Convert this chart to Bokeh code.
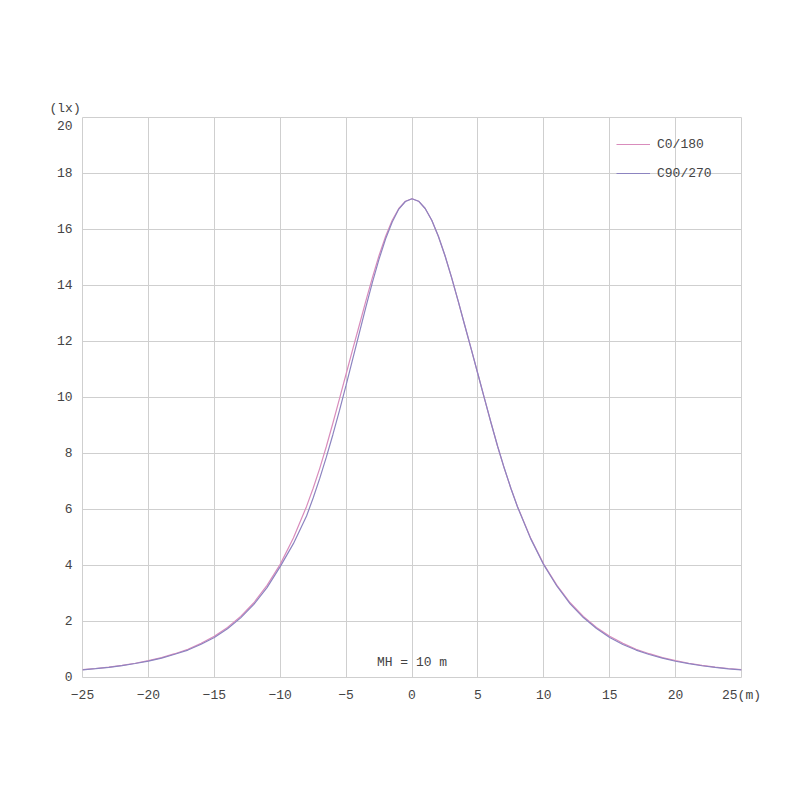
from bokeh.plotting import figure
from bokeh.models import Range1d, Label, Legend, LegendItem, FixedTicker, ColumnDataSource, Title
from bokeh.embed import file_html
from bokeh.resources import INLINE

# distance from luminaire (m)
x_m = [-25, -24, -23, -22, -21, -20, -19, -18, -17, -16, -15, -14, -13, -12, -11, -10, -9,
       -8, -7.5, -7, -6.5, -6, -5.5, -5, -4.5, -4, -3.5, -3, -2.5, -2, -1.5, -1, -0.5,
       0,
       0.5, 1, 1.5, 2, 2.5, 3, 3.5, 4, 4.5, 5, 5.5, 6, 6.5, 7, 7.5, 8,
       9, 10, 11, 12, 13, 14, 15, 16, 17, 18, 19, 20, 21, 22, 23, 24, 25]

# illuminance (lx), C0/180 plane
c0_180 = [0.278, 0.321, 0.373, 0.435, 0.51, 0.60, 0.71, 0.85, 1.01, 1.22, 1.47, 1.79, 2.18, 2.67, 3.29, 4.04, 4.98,
          6.11, 6.76, 7.47, 8.25, 9.09, 9.96, 10.84, 11.72, 12.58, 13.45, 14.29, 15.07, 15.76, 16.33, 16.75, 17.01,
          17.10,
          17.01, 16.75, 16.33, 15.76, 15.07, 14.29, 13.45, 12.58, 11.72, 10.84, 9.96, 9.09, 8.25, 7.47, 6.76, 6.11,
          4.98, 4.04, 3.29, 2.67, 2.18, 1.79, 1.47, 1.22, 1.01, 0.85, 0.71, 0.60, 0.51, 0.435, 0.373, 0.321, 0.278]

# illuminance (lx), C90/270 plane
c90_270 = [0.272, 0.315, 0.365, 0.425, 0.50, 0.585, 0.69, 0.83, 0.98, 1.19, 1.43, 1.74, 2.13, 2.61, 3.21, 3.96, 4.78,
           5.77, 6.41, 7.11, 7.87, 8.68, 9.54, 10.44, 11.37, 12.30, 13.23, 14.12, 14.94, 15.67, 16.27, 16.73, 17.00,
           17.10,
           17.01, 16.75, 16.33, 15.76, 15.07, 14.29, 13.45, 12.58, 11.72, 10.84, 9.96, 9.09, 8.25, 7.48, 6.76, 6.10,
           4.96, 4.02, 3.26, 2.63, 2.14, 1.75, 1.43, 1.18, 0.98, 0.82, 0.69, 0.58, 0.495, 0.42, 0.36, 0.31, 0.27]

x_ticks = [-25, -20, -15, -10, -5, 0, 5, 10, 15, 20, 25]
y_ticks = [0, 2, 4, 6, 8, 10, 12, 14, 16, 18, 20]
x_unit = "(m)"
y_unit = "(lx)"
note = "MH = 10 m"
series_names = ["C0/180", "C90/270"]
series_colors = ["#d98cbc", "#8c84c0"]

FONT = "Liberation Mono"
TXT = "#444444"
GRID = "#cfcfcf"

p = figure(frame_width=659, frame_height=560,
           min_border_left=82, min_border_right=51, min_border_top=117, min_border_bottom=99,
           x_range=Range1d(-25, 25), y_range=Range1d(0, 20),
           output_backend="svg", toolbar_location=None,
           background_fill_color="white", border_fill_color="white")

p.outline_line_color = GRID
p.outline_line_width = 1

for ax in (p.xaxis[0], p.yaxis[0]):
    ax.axis_line_color = None
    ax.major_tick_line_color = None
    ax.minor_tick_line_color = None
    ax.major_tick_out = 0
    ax.major_tick_in = 0
    ax.major_label_text_font = FONT
    ax.major_label_text_font_size = "13px"
    ax.major_label_text_color = TXT

p.xaxis[0].ticker = FixedTicker(ticks=x_ticks)
p.yaxis[0].ticker = FixedTicker(ticks=y_ticks)
p.xaxis[0].major_label_overrides = {x_ticks[-1]: str(x_ticks[-1]) + x_unit}
p.yaxis[0].major_label_overrides = {y_ticks[-1]: "\n" + str(y_ticks[-1])}
p.xaxis[0].major_label_standoff = 10
p.yaxis[0].major_label_standoff = 10

p.xgrid[0].ticker = FixedTicker(ticks=x_ticks)
p.ygrid[0].ticker = FixedTicker(ticks=y_ticks)
p.xgrid.grid_line_color = GRID
p.ygrid.grid_line_color = GRID
p.xgrid.grid_line_width = 1
p.ygrid.grid_line_width = 1

src = ColumnDataSource(dict(x=x_m, a=c0_180, b=c90_270))
r1 = p.line("x", "a", source=src, line_color=series_colors[0], line_width=1.2)
r2 = p.line("x", "b", source=src, line_color=series_colors[1], line_width=1.2)

legend = Legend(items=[LegendItem(label=series_names[0], renderers=[r1]),
                       LegendItem(label=series_names[1], renderers=[r2])],
                location=(534, 494),
                glyph_width=34, glyph_height=20, label_height=20, label_standoff=7,
                spacing=9, padding=10, margin=0,
                label_text_font=FONT, label_text_font_size="13px", label_text_color=TXT,
                background_fill_alpha=0, border_line_color=None)
p.add_layout(legend)

p.add_layout(Label(x=0, y=0.55, text=note, text_align="center", text_baseline="middle",
                   text_font=FONT, text_font_size="13px", text_color=TXT))

p.add_layout(Title(text=y_unit, align="left", offset=-33, standoff=3,
                   text_font=FONT, text_font_size="13px", text_color=TXT,
                   text_font_style="normal"), "above")

open("out.html", "w").write(file_html(p, INLINE))
